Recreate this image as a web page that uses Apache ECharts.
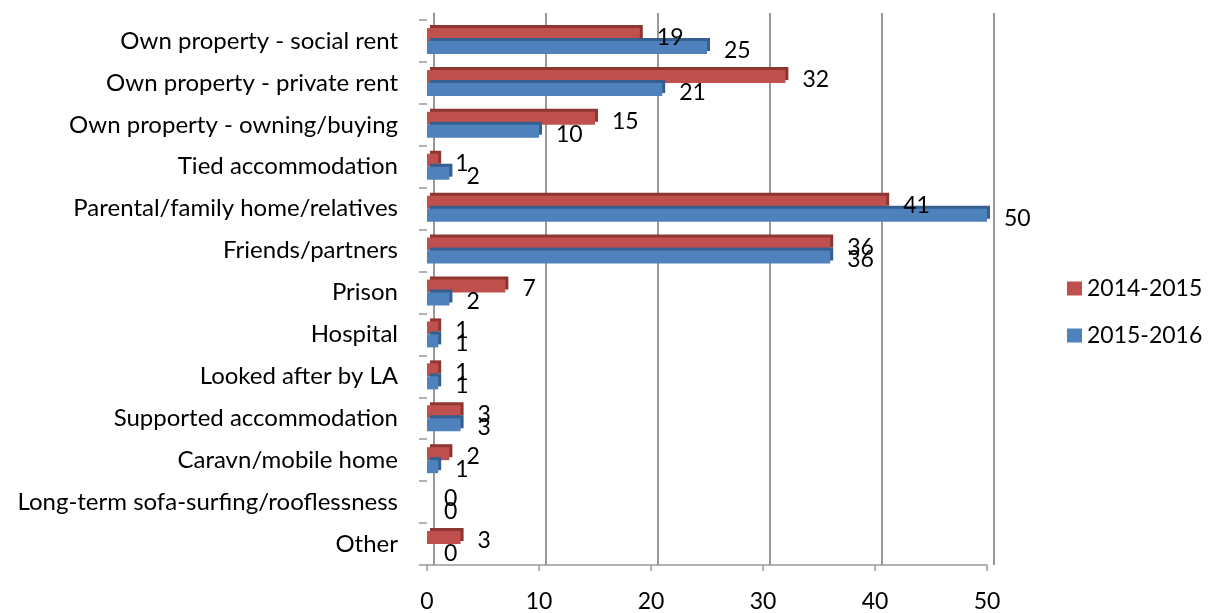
<!DOCTYPE html>
<html><head><meta charset="utf-8">
<script src="https://cdn.jsdelivr.net/npm/echarts@6/dist/echarts.min.js"></script>
<style>html,body{margin:0;padding:0;background:#fff}#c{width:1209px;height:613px}</style>
</head><body><div id="c"></div>
<script>
const categories = ["Own property - social rent","Own property - private rent","Own property - owning/buying","Tied accommodation","Parental/family home/relatives","Friends/partners","Prison","Hospital","Looked after by LA","Supported accommodation","Caravn/mobile home","Long-term sofa-surfing/rooflessness","Other"];
const s2014 = [19,32,15,1,41,36,7,1,1,3,2,0,3];
const s2016 = [25,21,10,2,50,36,2,1,1,3,1,0,0];
const xTicks = [0,10,20,30,40,50];
const FONT = 'Lato';
const FS = 24;
const chart = echarts.init(document.getElementById('c'));
function mkLabel(){return {show:true,position:'right',distance:17,color:'#000',fontSize:FS-1,fontFamily:FONT,offset:[0,3]};}
chart.setOption({
  animation:false,
  grid:[
    {left:427,right:222,top:20,bottom:43,containLabel:false},
    {left:434,right:215,top:13,bottom:48,containLabel:false}
  ],
  legend:{orient:'vertical',left:1062,top:272,itemWidth:15,itemHeight:14,itemGap:24,icon:'rect',
    textStyle:{fontSize:FS-1,fontFamily:FONT,color:'#000'}},
  xAxis:[
    {type:'value',gridIndex:0,min:0,max:50,interval:10,
    axisLine:{show:true,lineStyle:{color:'#999',width:1.5}},
    axisTick:{show:true,length:6,lineStyle:{color:'#999',width:1.5}},
    axisLabel:{fontSize:FS-1,fontFamily:FONT,color:'#000',margin:25,formatter:v=>xTicks.includes(v)?String(v):''},
    splitLine:{show:false}},
    {type:'value',gridIndex:1,min:0,max:50,interval:10,
    axisLine:{show:false},axisTick:{show:false},axisLabel:{show:false},
    splitLine:{show:true,lineStyle:{color:'#999',width:2}}}
  ],
  yAxis:[
    {type:'category',gridIndex:0,data:categories,inverse:true,
    axisLine:{show:false},
    axisTick:{show:true,length:8,lineStyle:{color:'#999',width:1.5}},
    axisLabel:{fontSize:FS,fontFamily:FONT,color:'#000',margin:29}},
    {type:'category',gridIndex:1,data:categories,inverse:true,
    axisLine:{show:true,lineStyle:{color:'#999',width:1.5}},
    axisTick:{show:false},axisLabel:{show:false}}
  ],
  series:[
    {name:'2014-2015',type:'bar',data:s2014,barGap:'0%',barCategoryGap:'38%',
     itemStyle:{color:'#C0504D',shadowColor:'#8f3633',shadowOffsetX:3,shadowOffsetY:-3,shadowBlur:0},label:mkLabel()},
    {name:'2015-2016',type:'bar',data:s2016,
     itemStyle:{color:'#4F81BD',shadowColor:'#365f8f',shadowOffsetX:3,shadowOffsetY:-3,shadowBlur:0},label:mkLabel()}
  ]
});
</script></body></html>
